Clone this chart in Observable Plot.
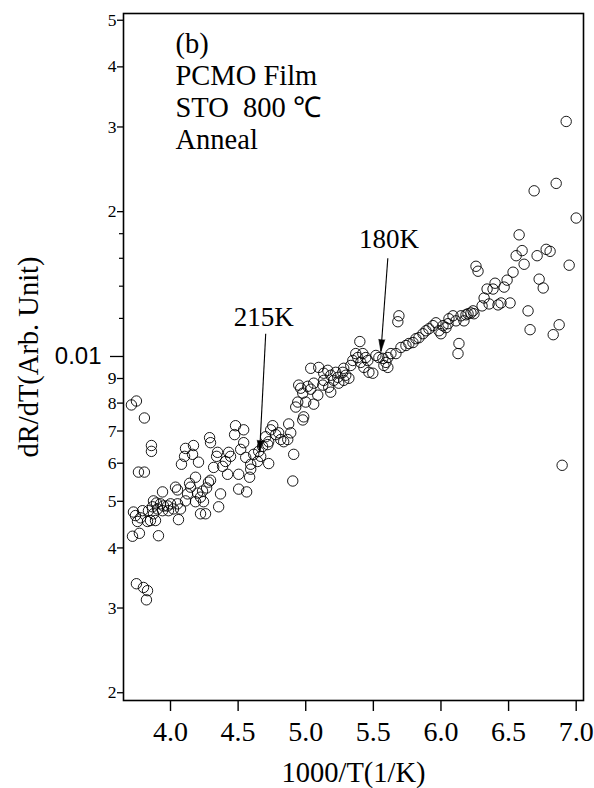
<!DOCTYPE html>
<html><head><meta charset="utf-8">
<script src="https://cdn.jsdelivr.net/npm/d3@7"></script>
<script src="https://cdn.jsdelivr.net/npm/@observablehq/plot@0.6"></script>
<style>html,body{margin:0;padding:0;background:#fff;}</style>
</head><body><div id="chart"></div>
<script>
// 1000/T (1/K)
const invT = [
3.711,3.748,3.807,3.859,3.859,3.763,3.807,3.719,3.770,3.911,3.748,3.800,3.830,3.822,
3.726,3.741,3.778,3.756,3.830,3.852,3.889,3.793,3.837,3.874,3.867,3.904,3.941,3.985,4.022,4.059,4.074,
3.874,3.896,3.926,3.948,3.978,4.000,4.052,3.941,4.037,4.052,4.111,4.126,4.141,4.148,4.185,4.185,4.200,4.222,4.237,4.267,4.244,4.281,4.296,4.222,4.259,4.370,4.356,4.504,4.563,4.422,4.504,4.585,
4.081,4.104,4.111,4.170,4.163,4.207,4.289,4.296,4.348,4.341,4.319,4.385,4.430,4.444,4.481,4.474,4.541,4.541,4.519,4.556,4.407,4.593,4.615,4.644,4.652,4.667,4.681,4.593,4.726,
4.704,4.719,4.726,4.741,4.756,4.778,4.800,4.815,4.837,4.867,4.889,4.874,4.911,4.904,4.985,4.978,4.926,4.941,5.000,5.059,4.978,4.948,4.963,5.015,5.037,5.059,5.089,5.126,5.133,5.170,5.185,5.037,5.096,5.133,5.163,5.185,5.222,5.237,5.274,5.281,5.296,5.319,5.333,5.281,5.244,5.207,
5.348,5.370,5.385,5.400,5.422,5.444,5.430,5.467,5.496,5.459,5.407,5.519,5.541,5.570,5.578,5.593,5.607,5.607,5.630,5.667,5.681,5.689,5.704,5.741,5.763,5.793,5.815,5.837,
5.867,5.889,5.911,5.941,5.963,5.985,6.015,6.037,6.059,6.089,6.111,6.133,6.126,6.148,6.170,6.185,6.200,6.222,6.244,6.052,6.000,
6.926,6.852,6.689,7.000,6.578,6.600,6.556,6.615,6.711,6.778,6.807,6.948,6.259,6.274,6.533,6.489,6.467,6.400,6.385,6.341,6.726,6.756,6.319,6.304,6.356,6.422,6.444,6.511,6.644,6.659,6.874,6.830,6.237,6.896
];
// dR/dT (Arb. Unit)
const dRdT = [
0.00793,0.00808,0.00745,0.00653,0.00635,0.00575,0.00575,0.00423,0.00429,0.00424,0.00337,0.00331,0.00326,0.00312,
0.00475,0.00467,0.00462,0.00454,0.00454,0.00456,0.00456,0.00478,0.00478,0.00471,0.00487,0.00482,0.00478,0.00478,0.00482,0.00458,0.00482,
0.00501,0.00496,0.00494,0.00489,0.00489,0.00494,0.00494,0.00523,0.00535,0.00528,0.00501,0.00518,0.00545,0.00535,0.00561,0.00499,0.00520,0.00510,0.00525,0.00533,0.00499,0.00548,0.00553,0.00471,0.00471,0.00518,0.00487,0.00530,0.00523,0.00569,0.00569,0.00561,
0.00597,0.00620,0.00644,0.00653,0.00626,0.00603,0.00678,0.00662,0.00632,0.00620,0.00588,0.00591,0.00632,0.00620,0.00718,0.00688,0.00704,0.00662,0.00641,0.00617,0.00605,0.00597,0.00626,0.00605,0.00635,0.00620,0.00650,0.00583,0.00599,
0.00681,0.00656,0.00665,0.00704,0.00718,0.00688,0.00694,0.00672,0.00665,0.00672,0.00694,0.00724,0.00626,0.00551,0.00749,0.00738,0.00785,0.00804,0.00804,0.00796,0.00839,0.00872,0.00859,0.00867,0.00855,0.00880,0.00831,0.00872,0.00892,0.00863,0.00843,0.00945,0.00949,0.00923,0.00936,0.00914,0.00927,0.00905,0.00927,0.00945,0.00914,0.00901,0.00958,0.00892,0.00880,0.00892,
0.00981,0.01014,0.00995,0.01074,0.01014,0.00995,0.00949,0.00927,0.00923,0.00981,0.00972,0.01005,0.00995,0.00991,0.00958,0.00972,0.00949,0.00995,0.01014,0.01014,0.01181,0.01215,0.01044,0.01054,0.01064,0.01069,0.01089,0.01094,
0.01115,0.01131,0.01142,0.01159,0.01175,0.01131,0.01159,0.01148,0.01198,0.01215,0.01186,0.01064,0.01014,0.01215,0.01186,0.01221,0.01227,0.01232,0.01227,0.01170,0.01115,
0.0308,0.0229,0.0221,0.0194,0.0179,0.0166,0.0162,0.01555,0.0162,0.0167,0.01654,0.01548,0.0154,0.01504,0.01497,0.01441,0.01394,0.0142,0.01381,0.01381,0.01448,0.01388,0.01323,0.01274,0.01286,0.0128,0.01292,0.01292,0.01244,0.01137,0.01164,0.0111,0.01244,0.00594
];

const xTicks = [4.0, 4.5, 5.0, 5.5, 6.0, 6.5, 7.0];
const xTickLabels = ["4.0", "4.5", "5.0", "5.5", "6.0", "6.5", "7.0"];
const yTicks = [0.002, 0.003, 0.004, 0.005, 0.006, 0.007, 0.008, 0.009, 0.02, 0.03, 0.04, 0.05];
const yTickLabels = ["2", "3", "4", "5", "6", "7", "8", "9", "2", "3", "4", "5"];
const yDecadeTicks = [0.01];
const yDecadeLabels = ["0.01"];
const yMinorTicks = [0.012, 0.014, 0.016, 0.018];

const panelLines = ["(b)", "PCMO Film", "STO  800 ℃", "Anneal"];
const markerLabels = ["215K", "180K"];
const markerLabelX = [4.689, 5.615];
const markerLabelY = [0.01159, 0.01678];
const arrowFromX = [4.704, 5.607];
const arrowFromY = [0.01115, 0.0160];
const arrowToX = [4.659, 5.556];
const arrowToY = [0.00632, 0.01024];

const xTitle = "1000/T(1/K)";
const yTitle = "dR/dT(Arb. Unit)";

const points = invT.map((x, i) => ({x, y: dRdT[i]}));
const markers = markerLabels.map((t, i) => ({
  text: t, x: markerLabelX[i], y: markerLabelY[i],
  x1: arrowFromX[i], y1: arrowFromY[i], x2: arrowToX[i], y2: arrowToY[i]
}));
const yLab = new Map(yTicks.map((v, i) => [v, yTickLabels[i]]));
const xLab = new Map(xTicks.map((v, i) => [v, xTickLabels[i]]));

const serif = "'Liberation Serif', 'Times New Roman', serif";
const W = 594, H = 788, ML = 123, MR = 11, MT = 13, MB = 88;
const xDomain = [3.6524, 7.054], yDomain = [0.001927, 0.05164];

// pixel-space direction of each arrow (for the filled arrowhead)
const xs = d3.scaleLinear(xDomain, [ML, W - MR]);
const ys = d3.scaleLog(yDomain, [H - MB, MT]);
markers.forEach(m => {
  const dx = xs(m.x2) - xs(m.x1), dy = ys(m.y2) - ys(m.y1);
  m.angle = Math.atan2(dx, -dy) * 180 / Math.PI;
});

const chart = Plot.plot({
  width: W,
  height: H,
  marginLeft: ML,
  marginRight: MR,
  marginTop: MT,
  marginBottom: MB,
  style: {fontFamily: serif, fontSize: "16px", color: "black", background: "white"},
  x: {domain: xDomain, axis: null},
  y: {type: "log", domain: yDomain, axis: null},
  marks: [
    Plot.frame({stroke: "black", strokeWidth: 1.6}),
    Plot.axisX(xTicks, {tickSize: 11, tickPadding: 10, fontSize: 28, fontFamily: serif,
      tickFormat: d => xLab.get(d), strokeWidth: 1.4}),
    Plot.axisY(yTicks, {tickSize: 6, tickPadding: 1, fontSize: 17.5, fontFamily: serif,
      tickFormat: d => yLab.get(d), strokeWidth: 1.3}),
    Plot.axisY(yDecadeTicks, {tickSize: 13, tickPadding: 9, fontSize: 24,
      fontFamily: "'Liberation Sans', Arial, sans-serif",
      tickFormat: (d, i) => yDecadeLabels[0], strokeWidth: 1.3}),
    Plot.axisY(yMinorTicks, {tickSize: 4, tickFormat: () => "", strokeWidth: 1.2}),
    Plot.dot(points, {x: "x", y: "y", r: 5.2, stroke: "black", strokeWidth: 0.9, fill: "none"}),
    Plot.link(markers, {x1: "x1", y1: "y1", x2: "x2", y2: "y2", stroke: "black", strokeWidth: 1.1}),
    Plot.vector(markers, {x: "x2", y: "y2", length: 12, r: 3, shape: "spike", anchor: "end",
      rotate: "angle", fill: "black", stroke: "black", strokeWidth: 0.6}),
    Plot.text(markers, {x: "x", y: "y", text: "text", fontSize: 27, fontFamily: serif,
      textAnchor: "middle", lineAnchor: "bottom", fill: "black"}),
    Plot.text([panelLines.join("\n")], {frameAnchor: "top-left", dx: 52, dy: 17,
      lineAnchor: "top", textAnchor: "start", lineHeight: 1.12, fontSize: 28.5,
      fontFamily: serif, fill: "black"}),
    Plot.text([xTitle], {frameAnchor: "bottom", dy: 81, lineAnchor: "bottom",
      fontSize: 28.5, fontFamily: serif, fill: "black"}),
    Plot.text([yTitle], {frameAnchor: "left", dx: -95, rotate: -90, lineAnchor: "middle",
      textAnchor: "middle", fontSize: 28.5, fontFamily: serif, fill: "black"})
  ]
});
document.getElementById("chart").appendChild(chart);
</script>
</body></html>
